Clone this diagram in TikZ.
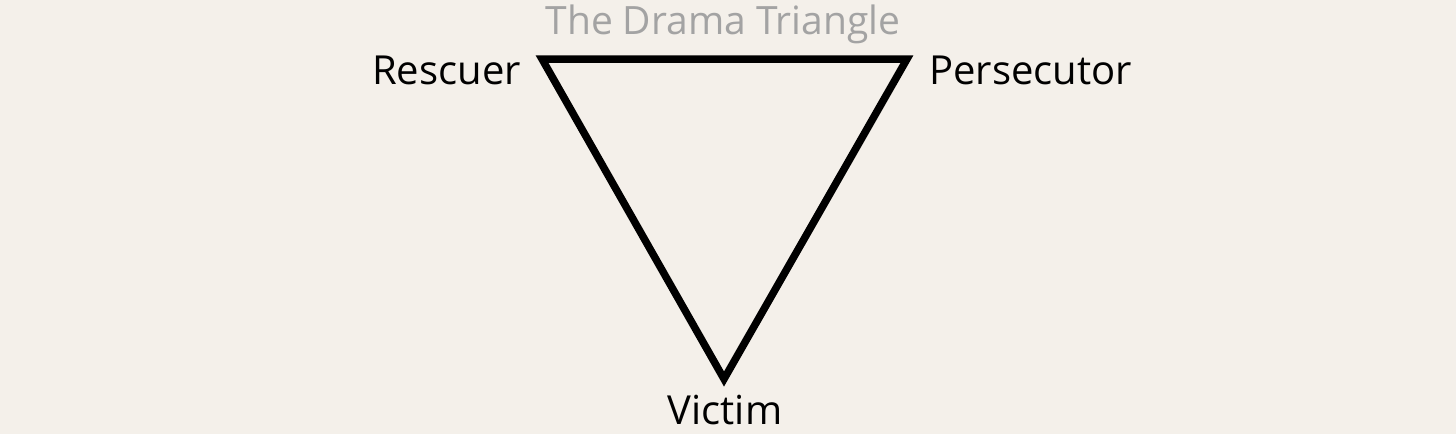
\documentclass[tikz,border=0pt]{standalone}
\usepackage{fontspec}
\setmainfont{Open Sans}
\definecolor{paper}{HTML}{F4F0EA}
\definecolor{titlegray}{HTML}{A3A3A3}
\begin{document}
\begin{tikzpicture}[x=1pt, y=-1pt,
    role/.style={font=\fontsize{40}{48}\selectfont, inner sep=0pt},
    side/.style={line width=7.5pt, miter limit=10}]
    \fill[paper] (0,0) rectangle (1456,434);
    \useasboundingbox (0,0) rectangle (1456,434);
    \coordinate (r) at (542,59);
    \coordinate (p) at (907,59);
    \coordinate (v) at (724,379);
    \draw[side] (r) -- (p) -- (v) -- cycle;
    \node[role, font=\fontsize{39}{47}\selectfont, text=titlegray, anchor=base] (title) at (723,34) {The Drama Triangle};
    \node[role, anchor=base east] (rescuer) at (521,84) {Rescuer};
    \node[role, anchor=base west] (persecutor) at (929,84) {Persecutor};
    \node[role, anchor=base] (victim) at (725,424) {Victim};
\end{tikzpicture}
\end{document}
